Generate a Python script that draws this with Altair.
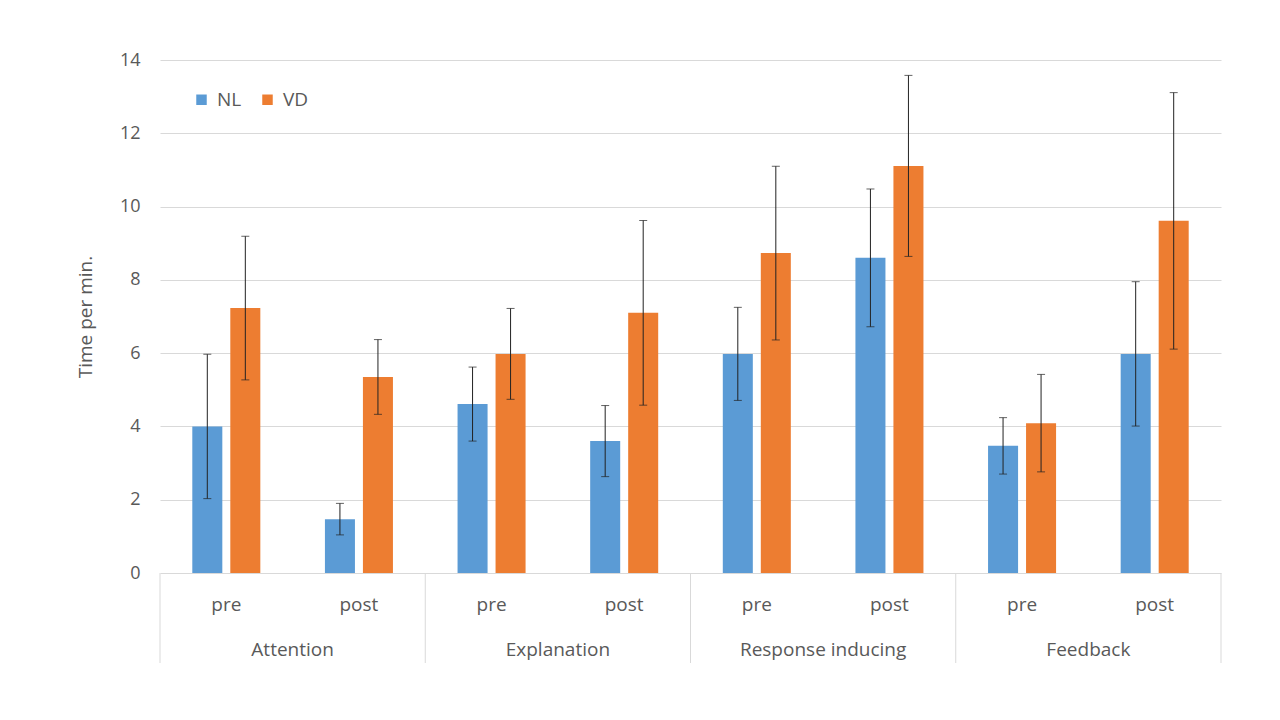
import altair as alt
import pandas as pd

categories = ["Attention", "Explanation", "Response inducing", "Feedback"]
phases = ["pre", "post"]
series = ["NL", "VD"]
colors = ["#5B9BD5", "#ED7D31"]

# order: Attention pre, Attention post, Explanation pre, ... Feedback post
nl_mean = [4.0, 1.47, 4.61, 3.60, 5.98, 8.60, 3.47, 5.98]
nl_err = [1.97, 0.43, 1.01, 0.97, 1.27, 1.88, 0.77, 1.97]
vd_mean = [7.23, 5.35, 5.98, 7.10, 8.73, 11.11, 4.09, 9.61]
vd_err = [1.96, 1.02, 1.24, 2.52, 2.37, 2.47, 1.33, 3.50]

FONT = "Open Sans"
TXT = "#595959"
GRID = "#d9d9d9"
FS = 19

keys = [f"{c}|{p}" for c in categories for p in phases]
rows = []
for i, k in enumerate(keys):
    c, p = k.split("|")
    for s, m, e in (("NL", nl_mean[i], nl_err[i]), ("VD", vd_mean[i], vd_err[i])):
        rows.append({"key": k, "cat": c, "phase": p, "series": s,
                     "mean": m, "lo": m - e, "hi": m + e})
df = pd.DataFrame(rows)

phase_df = pd.DataFrame([{"key": k, "phase": k.split("|")[1]} for k in keys])
cat_df = pd.DataFrame([{"key": f"{c}|post", "cat": c} for c in categories])
sep_start = pd.DataFrame([{"key": f"{c}|pre"} for c in categories])

xscale = alt.Scale(domain=keys, paddingInner=0, paddingOuter=0)
xoff = alt.XOffset("series:N", sort=series,
                   scale=alt.Scale(domain=series, paddingInner=0.21, paddingOuter=0.85))

def X(**kw):
    return alt.X("key:N", sort=keys, scale=xscale, axis=None, **kw)

yscale = alt.Scale(domain=[0, 14])

bars = alt.Chart(df).mark_bar().encode(
    x=X(),
    xOffset=xoff,
    y=alt.Y("mean:Q", scale=yscale,
            axis=alt.Axis(values=list(range(0, 15, 2)), title="Time per min.",
                          grid=True, gridColor=GRID, domain=False, ticks=False,
                          labelFontSize=18, labelColor=TXT, labelPadding=20,
                          labelFont=FONT, titleFont=FONT,
                          titleFontSize=FS, titleColor=TXT, titleFontWeight="normal",
                          titlePadding=24)),
    color=alt.Color("series:N", sort=series,
                    scale=alt.Scale(domain=series, range=colors),
                    legend=alt.Legend(orient="none", legendX=32, legendY=30,
                                      direction="horizontal", title=None,
                                      symbolType="square", symbolSize=110,
                                      symbolStrokeWidth=0, labelFontSize=FS,
                                      labelColor=TXT, labelFont=FONT,
                                      labelOffset=6, columnPadding=16)),
)

err = alt.Chart(df).mark_rule(color="#222222", strokeWidth=1).encode(
    x=X(), xOffset=xoff,
    y=alt.Y("lo:Q", scale=yscale), y2="hi:Q",
)
cap_lo = alt.Chart(df).mark_tick(color="#222222", thickness=1, size=8).encode(
    x=X(), xOffset=xoff, y=alt.Y("lo:Q", scale=yscale),
)
cap_hi = alt.Chart(df).mark_tick(color="#222222", thickness=1, size=8).encode(
    x=X(), xOffset=xoff, y=alt.Y("hi:Q", scale=yscale),
)

phase_txt = alt.Chart(phase_df).mark_text(
    fontSize=FS, color=TXT, font=FONT, baseline="middle").encode(
    x=X(), y=alt.value(545), text="phase:N")

cat_txt = alt.Chart(cat_df).mark_text(
    fontSize=FS, color=TXT, font=FONT, baseline="middle").encode(
    x=X(bandPosition=0), y=alt.value(590), text="cat:N")

sep1 = alt.Chart(sep_start).mark_rule(color=GRID, strokeWidth=1).encode(
    x=X(bandPosition=0), y=alt.value(513), y2=alt.value(603))
sep2 = alt.Chart(sep_start).transform_filter(
    alt.datum.key == keys[-2]).mark_rule(color=GRID, strokeWidth=1).encode(
    x=alt.value(1061), y=alt.value(513), y2=alt.value(603))

chart = alt.layer(bars, err, cap_lo, cap_hi, phase_txt, cat_txt, sep1, sep2).properties(
    width=1061, height=513,
    autosize=alt.AutoSizeParams(type="none"),
    padding={"left": 152, "top": 52, "right": 51, "bottom": 130},
).configure(font=FONT).configure_view(stroke="transparent", strokeWidth=0)

chart.save("out.html", embed_options={"renderer": "svg", "actions": False})
